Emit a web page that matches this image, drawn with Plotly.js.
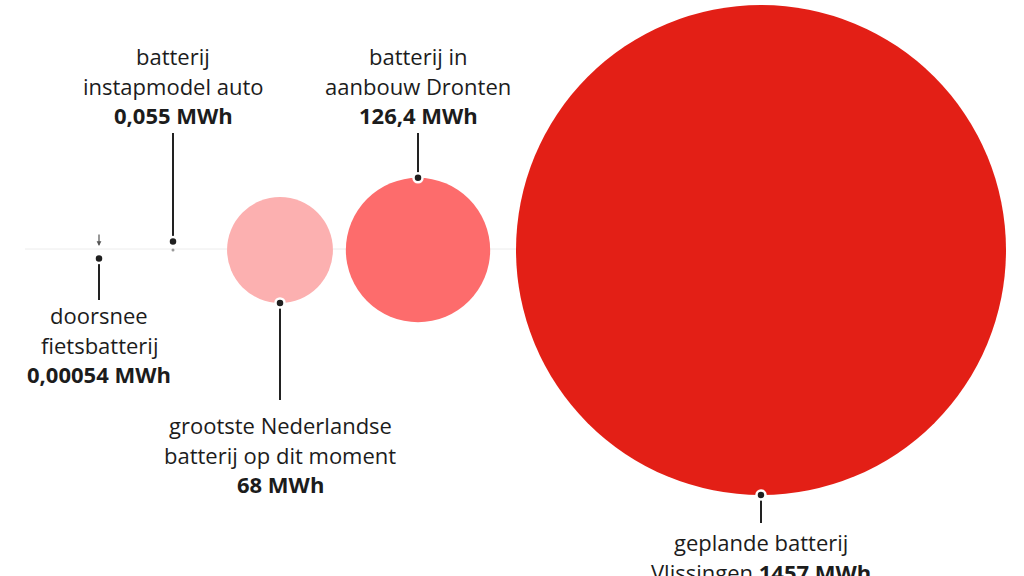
<!DOCTYPE html>
<html>
<head>
<meta charset="utf-8">
<script src="https://cdn.plot.ly/plotly-3.0.1.min.js"></script>
<style>html,body{margin:0;padding:0;background:#fff;}#chart{width:1024px;height:576px;}</style>
</head>
<body>
<div id="chart"></div>
<script>
// ---- data ----
const batteryNames = ["doorsnee fietsbatterij", "batterij instapmodel auto", "grootste Nederlandse batterij op dit moment", "batterij in aanbouw Dronten", "geplande batterij Vlissingen"];
const valuesMWh = [0.00054, 0.055, 68, 126.4, 1457];
const valueLabels = ["0,00054 MWh", "0,055 MWh", "68 MWh", "126,4 MWh", "1457 MWh"];
const labelLines = [["doorsnee", "fietsbatterij"], ["batterij", "instapmodel auto"], ["grootste Nederlandse", "batterij op dit moment"], ["batterij in", "aanbouw Dronten"], ["geplande batterij", "Vlissingen"]];

// ---- layout / style (pixel-unit axes) ----
const centerX = [99, 173, 280, 418, 761];
const centerY = 250;
const maxRadius = 245;
const side = [1, -1, 1, -1, 1];          // 1 = label below, -1 = label above
const leaderEndY = [300, 133, 400, 133, 523];
const firstLineY = [315, 56, 425, 56, 542];
const lineGap = 29.5;
const bubbleColors = ["#9a9a9a", "#9a9a9a", "#fcb0b0", "#fd6c6c", "#e31f16"];
const inlineValue = [false, false, false, false, true];

const maxV = Math.max(...valuesMWh);
const radii = valuesMWh.map(v => maxRadius * Math.sqrt(v / maxV));

const traces = [];
// baseline
traces.push({x: [25, centerX[4]], y: [centerY - 1, centerY - 1], mode: 'lines', line: {color: '#ececec', width: 1}, hoverinfo: 'skip', showlegend: false});
// bubbles
traces.push({
  x: centerX, y: centerX.map(() => centerY), mode: 'markers', text: batteryNames,
  marker: {size: radii.map(r => 2 * r), sizemode: 'diameter', sizeref: 1, sizemin: 0, color: bubbleColors, line: {width: 0}, opacity: 1},
  hoverinfo: 'text', showlegend: false, cliponaxis: false
});
// leaders
const dotY = radii.map((r, i) => centerY + side[i] * Math.max(r, 8.5));
const lx = [], ly = [];
centerX.forEach((cx, i) => { lx.push(cx, cx, null); ly.push(dotY[i], leaderEndY[i], null); });
traces.push({x: lx, y: ly, mode: 'lines', line: {color: '#222', width: 2}, hoverinfo: 'skip', showlegend: false});
traces.push({x: centerX, y: dotY, mode: 'markers', marker: {size: 9, color: '#1f1f1f', line: {color: '#fff', width: 2.5}}, hoverinfo: 'skip', showlegend: false, cliponaxis: false});

const font = {family: 'Open Sans, sans-serif', size: 22, color: '#1c1c1c'};
const annotations = [];
centerX.forEach((cx, i) => {
  const lines = labelLines[i].slice();
  if (inlineValue[i]) lines[lines.length - 1] += ' <b>' + valueLabels[i] + '</b>';
  else lines.push('<b>' + valueLabels[i] + '</b>');
  lines.forEach((t, j) => {
    annotations.push({x: cx, y: firstLineY[i] + j * lineGap, xref: 'x', yref: 'y', text: t, showarrow: false, font: font, xanchor: 'center', yanchor: 'middle'});
  });
});
// small arrow pointing at the (invisible) bike battery
annotations.push({x: centerX[0], y: centerY - 4, ax: centerX[0], ay: centerY - 17, xref: 'x', yref: 'y', axref: 'x', ayref: 'y', text: '', showarrow: true, arrowhead: 2, arrowsize: 0.8, arrowwidth: 1.2, arrowcolor: '#555'});

const layout = {
  width: 1024, height: 576, margin: {l: 0, r: 0, t: 0, b: 0},
  paper_bgcolor: '#fff', plot_bgcolor: '#fff',
  xaxis: {range: [0, 1024], visible: false, fixedrange: true},
  yaxis: {range: [576, 0], visible: false, fixedrange: true},
  annotations: annotations, showlegend: false
};
Plotly.newPlot('chart', traces, layout, {displayModeBar: false, staticPlot: true});
</script>
</body>
</html>
